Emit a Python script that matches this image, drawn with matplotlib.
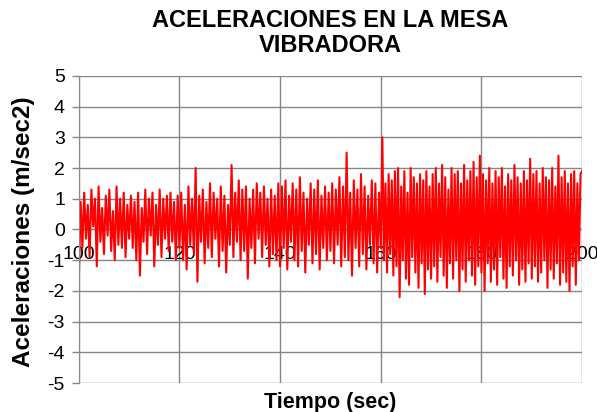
import numpy as np
import matplotlib
matplotlib.use('Agg')
import matplotlib.pyplot as plt

plt.rcParams['font.family'] = ['Liberation Sans', 'DejaVu Sans']
plt.rcParams['axes.unicode_minus'] = False

# picos y valles de la aceleracion, en tramos de 10 segundos
seg_100 = [-1.7, 0.9, -0.6, 1.2, -0.3, 0.8, -0.9, 1.3, 0.1, 1.0, -1.2, 1.4, -0.4, 0.7,
           -0.8, 1.1, -0.2, 1.3, -0.7, 0.6, -1.0, 1.4, -0.5, 1.0, -0.6, 1.2, -0.9, 0.8]
seg_110 = [-0.3, 1.1, -0.6, 0.9, -1.0, 1.2, -1.5, 0.7, -0.4, 1.3, -0.8, 1.0, -0.2, 1.2,
           -1.2, 0.8, -0.5, 1.3, -0.9, 1.0, -0.3, 1.1, -0.7, 1.2, -0.4, 0.9, -1.0, 1.1]
seg_120 = [-0.6, 1.2, -1.0, 0.8, -1.3, 1.4, -0.5, 1.0, -0.8, 2.0, -1.7, 1.1, -0.4, 1.3,
           -1.1, 0.9, -0.6, 1.5, -0.9, 1.2, -0.3, 1.0, -1.2, 1.4, -0.7, 1.1, -1.4, 0.8]
seg_130 = [-0.5, 2.1, -0.9, 1.2, -0.4, 1.6, -1.0, 1.3, -0.7, 1.4, -1.6, 1.0, -0.6, 1.3,
           -1.1, 1.5, -0.3, 1.2, -0.9, 1.4, -0.5, 1.0, -1.2, 1.3, -0.8, 1.1, -1.0, 1.5]
seg_140 = [-1.2, 1.4, -0.6, 1.6, -1.3, 1.1, -0.4, 1.5, -1.0, 1.3, -1.2, 1.7, -0.7, 1.2,
           -1.4, 1.0, -0.5, 1.5, -1.1, 1.3, -0.8, 1.6, -1.3, 1.1, -0.6, 1.4, -1.0, 1.2]
seg_150 = [-0.7, 1.5, -1.1, 1.3, -0.5, 1.7, -1.2, 1.4, -0.9, 2.5, -1.0, 1.2, -1.5, 1.6,
           -0.6, 1.3, -1.2, 1.8, -0.8, 1.4, -1.3, 1.1, -0.5, 1.6, -1.1, 1.5, -1.4, 1.2]
seg_160 = [-0.6, 3.0, -1.0, 1.5, -1.4, 1.8, -0.8, 1.6, -1.5, 1.9, -1.2, 2.0, -2.2, 1.4,
           -1.0, 1.9, -1.6, 1.2, -1.8, 2.0, -0.9, 1.7, -1.4, 1.5, -1.9, 1.8, -1.1, 1.6,
           -2.1, 1.9, -1.3, 1.4]
seg_170 = [-1.6, 1.8, -1.2, 2.0, -1.7, 1.5, -0.9, 2.1, -1.5, 1.7, -1.9, 1.3, -1.1, 2.0,
           -1.6, 1.8, -1.0, 1.9, -2.0, 1.5, -1.3, 2.1, -1.7, 1.6, -1.0, 1.9, -1.5, 2.2,
           -1.8, 1.7, -1.2, 2.4]
seg_180 = [-1.4, 1.8, -2.0, 1.6, -1.1, 2.0, -1.7, 1.5, -1.3, 1.9, -1.8, 1.7, -0.9, 2.0,
           -1.6, 1.4, -1.9, 1.8, -1.2, 1.6, -1.5, 2.1, -1.0, 1.7, -1.8, 1.5, -1.3, 1.9,
           -1.7, 1.6, -1.1, 2.3]
seg_190 = [-1.6, 1.8, -1.2, 1.9, -1.7, 1.5, -1.4, 2.0, -1.0, 1.7, -1.9, 1.6, -1.3, 2.0,
           -1.6, 1.4, -1.1, 2.4, -1.8, 1.7, -1.4, 1.9, -1.7, 1.5, -2.0, 1.8, -1.2, 1.9,
           -1.8, 1.5, -1.0, 1.8]
tramos = [seg_100, seg_110, seg_120, seg_130, seg_140,
          seg_150, seg_160, seg_170, seg_180, seg_190]
inicio_tramos = [100, 110, 120, 130, 140, 150, 160, 170, 180, 190]

tiempo = []
acel = []
for t0, seg in zip(inicio_tramos, tramos):
    tiempo.extend(np.linspace(t0, t0 + 10, len(seg), endpoint=False))
    acel.extend(seg)
tiempo.append(200)
acel.append(1.9)

gris = '#868686'

fig = plt.figure(figsize=(5.97, 4.12), dpi=100)
ax = fig.add_axes([0.132, 0.070, 0.843, 0.746])

ax.plot(tiempo, acel, color='#FF0000', lw=1.5, zorder=2)

ax.set_xlim(100, 200)
ax.set_ylim(-5, 5)
ax.set_xticks(range(100, 201, 20))
ax.set_yticks(range(-5, 6))
ax.grid(True, color=gris, lw=1.0, zorder=0)
ax.set_axisbelow(True)

for s in ['top', 'right']:
    ax.spines[s].set_visible(False)
ax.spines['left'].set_color(gris)
ax.spines['bottom'].set_position(('data', 0))
ax.spines['bottom'].set_visible(False)

ax.tick_params(axis='y', colors=gris, labelcolor='black', labelsize=14,
               length=5, width=1, direction='out', pad=5)
ax.tick_params(axis='x', labelsize=14, length=0, pad=12, labelcolor='black')
for lbl in ax.get_xticklabels():
    lbl.set_zorder(5)

ax.set_ylabel('Aceleraciones (m/sec2)', fontsize=17.5, fontweight='bold')
ax.yaxis.set_label_coords(-0.088, 0.493)
ax.set_xlabel('Tiempo (sec)', fontsize=15.5, fontweight='bold')
ax.xaxis.set_label_coords(0.5, -0.028)
ax.set_title('ACELERACIONES EN LA MESA\nVIBRADORA', fontsize=17,
             fontweight='bold', pad=17, linespacing=1.1)

fig.savefig('out.png', dpi=100)
